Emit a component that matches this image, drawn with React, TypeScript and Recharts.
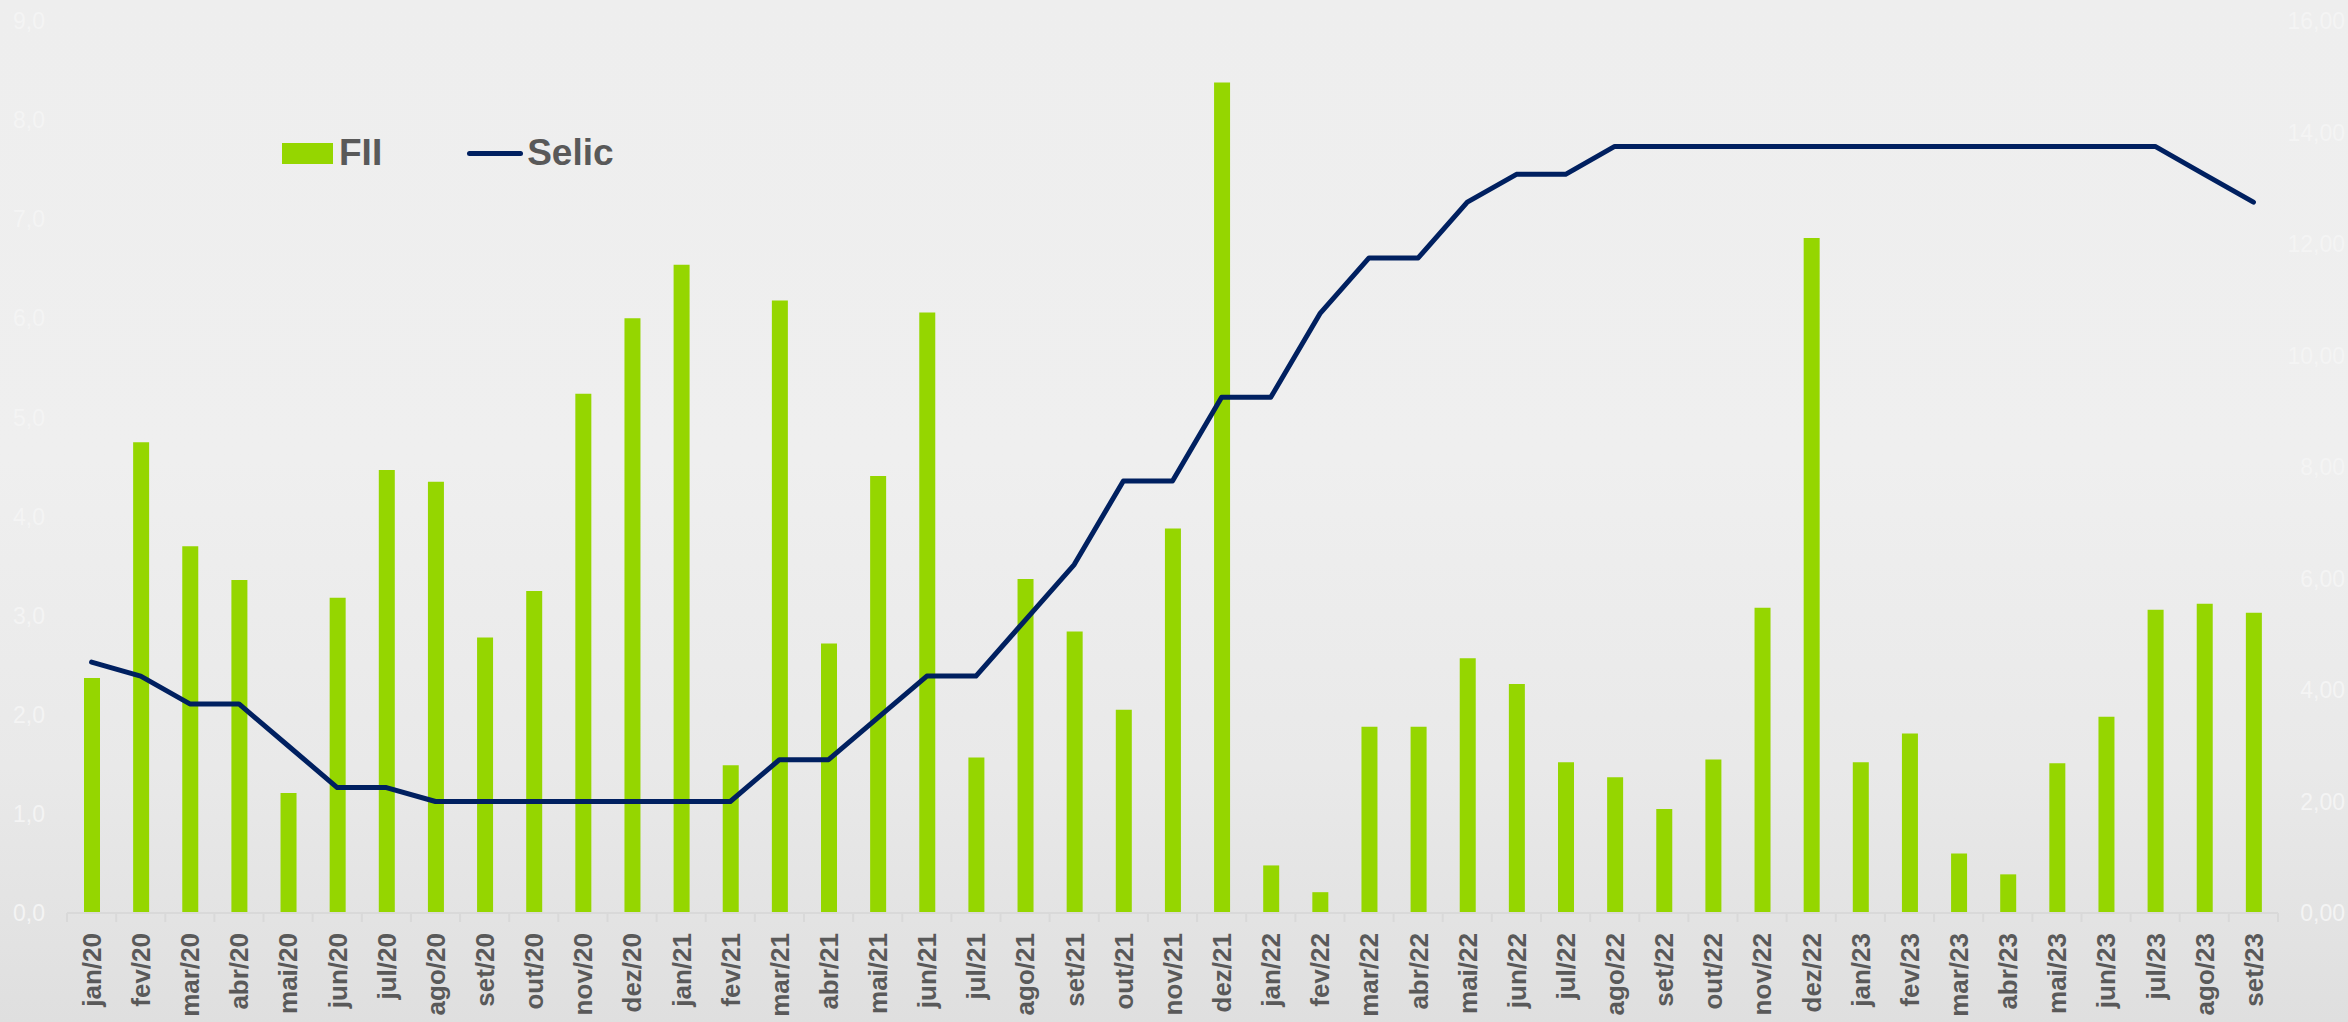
import React from "react";
import {
  ComposedChart,
  Bar,
  Line,
  XAxis,
  YAxis,
} from "recharts";

const months = [
  "jan/20", "fev/20", "mar/20", "abr/20", "mai/20", "jun/20", "jul/20", "ago/20", "set/20", "out/20", "nov/20", "dez/20",
  "jan/21", "fev/21", "mar/21", "abr/21", "mai/21", "jun/21", "jul/21", "ago/21", "set/21", "out/21", "nov/21", "dez/21",
  "jan/22", "fev/22", "mar/22", "abr/22", "mai/22", "jun/22", "jul/22", "ago/22", "set/22", "out/22", "nov/22", "dez/22",
  "jan/23", "fev/23", "mar/23", "abr/23", "mai/23", "jun/23", "jul/23", "ago/23", "set/23",
];

const fii = [
  2.37, 4.75, 3.7, 3.36, 1.21, 3.18, 4.47, 4.35, 2.78, 3.25, 5.24, 6.0,
  6.54, 1.49, 6.18, 2.72, 4.41, 6.06, 1.57, 3.37, 2.84, 2.05, 3.88, 8.38,
  0.48, 0.21, 1.88, 1.88, 2.57, 2.31, 1.52, 1.37, 1.05, 1.55, 3.08, 6.81,
  1.52, 1.81, 0.6, 0.39, 1.51, 1.98, 3.06, 3.12, 3.03,
];

const selic = [
  4.5, 4.25, 3.75, 3.75, 3.0, 2.25, 2.25, 2.0, 2.0, 2.0, 2.0, 2.0,
  2.0, 2.0, 2.75, 2.75, 3.5, 4.25, 4.25, 5.25, 6.25, 7.75, 7.75, 9.25,
  9.25, 10.75, 11.75, 11.75, 12.75, 13.25, 13.25, 13.75, 13.75, 13.75, 13.75, 13.75,
  13.75, 13.75, 13.75, 13.75, 13.75, 13.75, 13.75, 13.25, 12.75,
];

const leftTicks = [0, 1, 2, 3, 4, 5, 6, 7, 8, 9];
const rightTicks = [0, 2, 4, 6, 8, 10, 12, 14, 16];

const data = months.map((m, i) => ({ month: m, fii: fii[i], selic: selic[i] }));

const W = 2348;
const H = 1022;
const LEFT_W = 67;
const RIGHT_W = 70;
const BAND = (W - LEFT_W - RIGHT_W) / months.length;
const FONT = '"Liberation Sans", Arial, sans-serif';
const GREEN = "#95d600";
const NAVY = "#002060";
const GREY_TEXT = "#595959";
const FAINT = "#f4f4f4";

const MonthTick = (props: any) => {
  const { x, y, payload, index } = props;
  const last = index === months.length - 1;
  return (
    <g>
      <line x1={x - BAND / 2} x2={x - BAND / 2} y1={y} y2={y + 9} stroke="#d9d9d9" strokeWidth={2} />
      {last && (
        <line x1={x + BAND / 2} x2={x + BAND / 2} y1={y} y2={y + 9} stroke="#d9d9d9" strokeWidth={2} />
      )}
      <text
        x={0}
        y={0}
        dy="0.36em"
        transform={`translate(${x},${y + 20}) rotate(-90)`}
        textAnchor="end"
        fontSize={26}
        fontWeight="bold"
        fontFamily={FONT}
        fill={GREY_TEXT}
      >
        {payload.value}
      </text>
    </g>
  );
};

export default function App() {
  return (
    <div
      style={{
        position: "absolute",
        left: 0,
        top: 0,
        width: W,
        height: H,
        background: "linear-gradient(to bottom, #eeeeee 0%, #efefef 45%, #e9e9e9 75%, #dfdfdf 100%)",
        overflow: "hidden",
      }}
    >
      <ComposedChart
        width={W}
        height={H}
        data={data}
        margin={{ top: 21, right: 0, bottom: 0, left: 0 }}
        barCategoryGap={0}
      >
        <XAxis
          dataKey="month"
          height={109}
          interval={0}
          tickLine={false}
          tickSize={0}
          tickMargin={0}
          axisLine={{ stroke: "#d9d9d9", strokeWidth: 2 }}
          tick={<MonthTick />}
        />
        <YAxis
          yAxisId="left"
          orientation="left"
          width={LEFT_W}
          domain={[0, 9]}
          ticks={leftTicks}
          interval={0}
          axisLine={false}
          tickLine={false}
          tickMargin={16}
          tickFormatter={(v: number) => v.toFixed(1).replace(".", ",")}
          tick={{ fontSize: 23, fill: FAINT, fontFamily: FONT }}
        />
        <YAxis
          yAxisId="right"
          orientation="right"
          width={RIGHT_W}
          domain={[0, 16]}
          ticks={rightTicks}
          interval={0}
          axisLine={false}
          tickLine={false}
          tickMargin={61}
          tickFormatter={(v: number) => v.toFixed(2).replace(".", ",")}
          tick={{ fontSize: 23, fill: FAINT, fontFamily: FONT, textAnchor: "end" }}
        />
        <Bar yAxisId="left" dataKey="fii" fill={GREEN} barSize={16} isAnimationActive={false} />
        <Line
          yAxisId="right"
          dataKey="selic"
          type="linear"
          stroke={NAVY}
          strokeWidth={5}
          strokeLinecap="round"
          strokeLinejoin="round"
          dot={false}
          activeDot={false}
          isAnimationActive={false}
        />
      </ComposedChart>
      <div
        style={{
          position: "absolute",
          left: 282,
          top: 132,
          display: "flex",
          alignItems: "center",
          fontFamily: FONT,
          fontWeight: "bold",
          fontSize: 37,
          color: GREY_TEXT,
        }}
      >
        <div style={{ width: 51, height: 21, background: GREEN, marginRight: 6 }} />
        <span>FII</span>
        <div style={{ width: 56, height: 5, borderRadius: 3, background: NAVY, marginLeft: 85, marginRight: 4 }} />
        <span>Selic</span>
      </div>
    </div>
  );
}
